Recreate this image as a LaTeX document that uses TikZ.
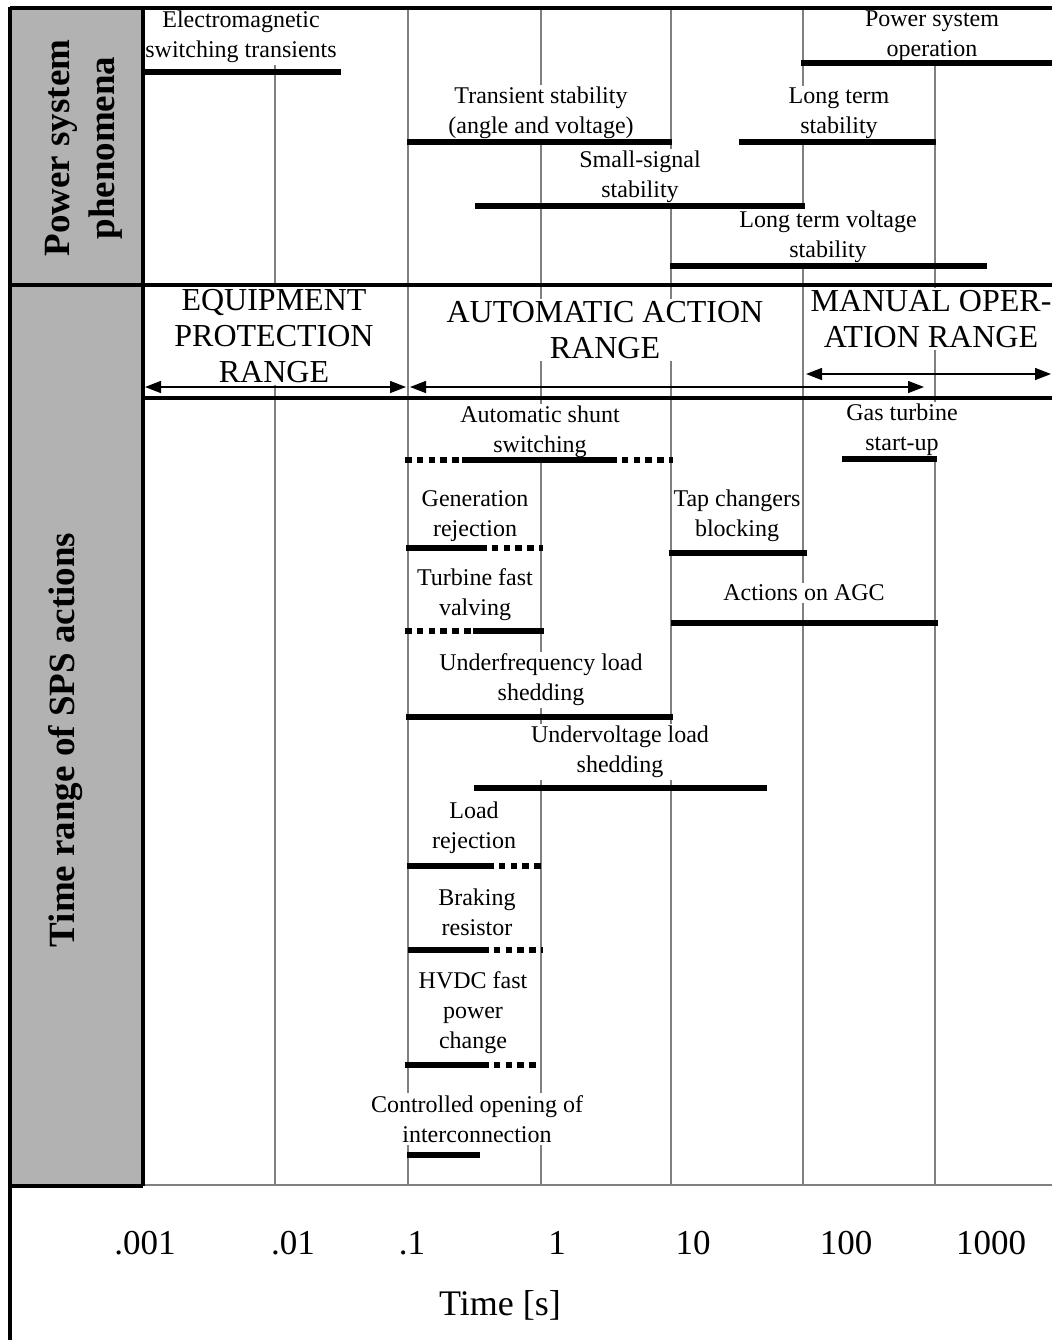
\documentclass[tikz,border=0pt]{standalone}
\usepackage{fontspec}
\setmainfont{Liberation Serif}
\usetikzlibrary{arrows.meta}

\begin{document}
\begin{tikzpicture}[
    x=0.5pt, y=-0.5pt,
    lbl/.style={fill=white, align=center, inner sep=1pt, font=\fontsize{12}{15}\selectfont},
    rng/.style={fill=white, align=center, inner sep=1pt, font=\fontsize{16}{18}\selectfont},
    side/.style={rotate=90, align=center, font=\fontsize{18.5}{22.5}\selectfont\bfseries},
    tick/.style={font=\fontsize{17.5}{20}\selectfont},
    gridln/.style={draw=black!50, line width=0.7pt},
    frame/.style={draw=black, line width=1.6pt},
    bar/.style={line width=2.6pt},
    dbar/.style={line width=2.6pt, dash pattern=on 3.3pt off 2.6pt},
    span/.style={line width=0.7pt, {Triangle[length=8pt,width=6pt]}-{Triangle[length=8pt,width=6pt]}}
]
\useasboundingbox (0,0) rectangle (1052,1340);

% grey label column
\fill[black!30] (11,9) rectangle (143,1186);

% vertical grid, one line per decade
\foreach \gx in {275,408,541,671,803,935}
    \draw[gridln] (\gx,9) -- (\gx,1185);
\draw[gridln] (143,1185) -- (1052,1185);

% side labels
\node[side] (psp) at (84,148) {Power system\\phenomena};
\node[side] (sps) at (66,740) {Time range of SPS actions};

% power system phenomena
\node[lbl] (emt) at (241,37) {Electromagnetic\\switching transients};
\draw[bar] (143,72) -- (341,72);
\node[lbl] (pso) at (932,36) {Power system\\operation};
\draw[bar] (801,63) -- (1052,63);
\node[lbl] (trs) at (541,113) {Transient stability\\(angle and voltage)};
\draw[bar] (407,142) -- (672,142);
\node[lbl] (lts) at (839,113) {Long term\\stability};
\draw[bar] (739,142) -- (936,142);
\node[lbl] (sss) at (640,177) {Small-signal\\stability};
\draw[bar] (475,206) -- (805,206);
\node[lbl] (ltv) at (828,237) {Long term voltage\\stability};
\draw[bar] (670,266) -- (987,266);

% action ranges
\node[rng] (eqp) at (274,336) {EQUIPMENT\\PROTECTION\\RANGE};
\node[rng] (aut) at (605,330) {AUTOMATIC ACTION\\RANGE};
\node[rng] (man) at (931,319) {MANUAL OPER-\\ATION RANGE};
\coordinate (eqL) at (145,387);
\coordinate (eqR) at (406,387);
\coordinate (auL) at (410,387);
\coordinate (auR) at (924,387);
\coordinate (maL) at (806,374);
\coordinate (maR) at (1051,374);
\draw[span] (eqL) -- (eqR);
\draw[span] (auL) -- (auR);
\draw[span] (maL) -- (maR);

% SPS actions
\node[lbl] (ass) at (540,432) {Automatic shunt\\switching};
\draw[dbar] (405,460) -- (462,460);
\draw[bar] (462,460) -- (610,460);
\draw[dbar] (610,460) -- (673,460);
\node[lbl] (gts) at (902,430) {Gas turbine\\start-up};
\draw[bar] (842,459) -- (937,459);
\node[lbl] (gen) at (475,516) {Generation\\rejection};
\draw[bar] (406,548) -- (480,548);
\draw[dbar] (480,548) -- (543,548);
\node[lbl] (tcb) at (737,516) {Tap changers\\blocking};
\draw[bar] (669,553) -- (807,553);
\node[lbl] (tfv) at (475,595) {Turbine fast\\valving};
\draw[dbar] (405,631) -- (473,631);
\draw[bar] (473,631) -- (544,631);
\node[lbl] (agc) at (804,593) {Actions on AGC};
\draw[bar] (671,623) -- (938,623);
\node[lbl] (ufl) at (541,680) {Underfrequency load\\shedding};
\draw[bar] (406,717) -- (673,717);
\node[lbl] (uvl) at (620,752) {Undervoltage load\\shedding};
\draw[bar] (474,788) -- (767,788);
\node[lbl] (ldr) at (474,828) {Load\\rejection};
\draw[bar] (407,866) -- (487,866);
\draw[dbar] (487,866) -- (544,866);
\node[lbl] (brk) at (477,912) {Braking\\resistor};
\draw[bar] (408,950) -- (482,950);
\draw[dbar] (482,950) -- (543,950);
\node[lbl] (hvd) at (473,1013) {HVDC fast\\power\\change};
\draw[bar] (405,1065) -- (482,1065);
\draw[dbar] (482,1065) -- (540,1065);
\node[lbl] (coi) at (477,1119) {Controlled opening of\\interconnection};
\draw[bar] (407,1155) -- (480,1155);

% frame
\draw[frame, line width=2pt] (10,8) -- (1052,8);
\draw[frame, line width=2pt] (10,7) -- (10,1340);
\draw[frame] (143,8) -- (143,1186);
\draw[frame] (10,285) -- (1052,285);
\draw[frame] (143,398) -- (1052,398);
\draw[frame] (10,1186) -- (143,1186);

% time axis
\foreach \tx/\tl in {145/.001, 293/.01, 412/.1, 557/1, 693/10, 846/100, 991/1000}
    \node[tick] (tk\tx) at (\tx,1243) {\tl};
\node[tick, font=\fontsize{18}{20}\selectfont] (tax) at (500,1305) {Time [s]};
\end{tikzpicture}
\end{document}
